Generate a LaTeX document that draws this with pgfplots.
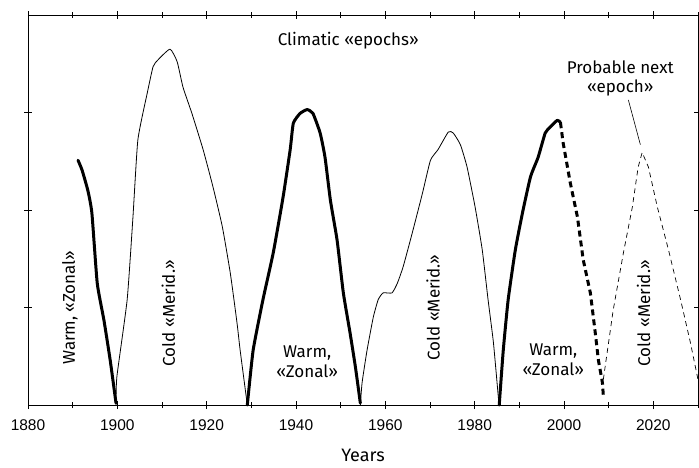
\documentclass[border=0pt]{standalone}
\usepackage{pgfplots}
\pgfplotsset{compat=1.18}
\usepackage{fontspec}
\setmainfont{Fira Sans}
\newfontfamily\tickfont{Liberation Sans}
\begin{document}
\begin{tikzpicture}
\begin{axis}[
  at={(0,0)}, anchor=south west,
  scale only axis, width=670pt, height=390pt,
  xmin=1880, xmax=2030, ymin=0, ymax=4,
  xtick={1880,1900,...,2020},
  minor xtick={1890,1910,...,2030},
  ytick={1,2,3},
  yticklabels={},
  tick align=center,
  major tick length=8pt, minor tick length=6pt,
  tick style={black, line width=0.6pt},
  axis line style={line width=0.8pt},
  xticklabel style={font=\tickfont\fontsize{15.5}{15.5}\selectfont, yshift=-7pt},
  /pgf/number format/assume math mode=true,
  /pgf/number format/1000 sep={},
  xlabel={Years},
  xlabel style={font=\fontsize{18}{18}\selectfont, yshift=-12pt},
  clip=false,
  every axis plot/.append style={line join=round, line cap=round},
]
% Warm 1890s (thick)
\addplot[black, line width=3pt, smooth, tension=0.3] coordinates {
(1891.2,2.51) (1892.1,2.41) (1893.4,2.20) (1894.3,1.97) (1895.5,1.25) (1897.0,0.87) (1898.4,0.46) (1899.7,0.02)
};
% Cold 1900-1929 (thin)
\addplot[black, line width=0.8pt, smooth, tension=0.3] coordinates {
(1899.7,0) (1899.9,0.29) (1902.2,1.08) (1903.5,1.93) (1904.6,2.72) (1906.7,3.20) (1908.0,3.47) (1909.1,3.54) (1911.8,3.65) (1913.4,3.52) (1914.7,3.26) (1916.7,2.99) (1919.2,2.62) (1921.4,2.24) (1923.5,1.83) (1925.3,1.35) (1926.8,0.84) (1927.5,0.56) (1929.1,0)
};
% Warm 1929-1954 (thick)
\addplot[black, line width=3pt, smooth, tension=0.3] coordinates {
(1929.1,0) (1930.4,0.56) (1932.6,1.08) (1934.9,1.56) (1937.1,2.13) (1938.7,2.62) (1939.4,2.89) (1940.9,2.99) (1942.5,3.03) (1943.8,2.99) (1945.4,2.79) (1946.5,2.54) (1947.7,2.10) (1949.2,1.69) (1950.6,1.15) (1952.1,0.74) (1953.3,0.39) (1954.4,0.02)
};
% Cold 1954-1985 (thin)
\addplot[black, line width=0.8pt, smooth, tension=0.3] coordinates {
(1954.4,0) (1954.8,0.23) (1955.9,0.56) (1957.3,0.90) (1958.4,1.08) (1959.5,1.15) (1961.5,1.15) (1962.7,1.25) (1964.0,1.42) (1966.0,1.76) (1968.3,2.17) (1970.1,2.51) (1971.8,2.62) (1974.1,2.80) (1975.2,2.79) (1976.8,2.67) (1978.3,2.44) (1980.1,2.03) (1981.7,1.59) (1983.0,1.08) (1984.2,0.64) (1985.3,0.08) (1985.5,0)
};
% Warm 1985-1999 (thick)
\addplot[black, line width=3pt, smooth, tension=0.3] coordinates {
(1985.5,0) (1986.4,0.56) (1987.5,1.08) (1989.1,1.59) (1990.7,1.97) (1992.5,2.34) (1994.2,2.54) (1995.8,2.79) (1996.9,2.85) (1998.5,2.92) (1999.2,2.90)
};
% Warm forecast (thick dashed)
\addplot[black, line width=3pt, line cap=butt, dash pattern=on 6pt off 4pt] coordinates {
(1999.2,2.90) (1999.8,2.69) (2001.4,2.28) (2003.0,1.93) (2004.3,1.49) (2005.9,1.15) (2007.0,0.74) (2007.7,0.46) (2008.6,0.23) (2008.8,0.10)
};
% Cold forecast (thin dashed)
\addplot[black, line width=0.7pt, line cap=butt, dash pattern=on 5pt off 4pt] coordinates {
(2008.8,0.26) (2011.0,0.97) (2013.3,1.56) (2015.3,2.03) (2016.6,2.44) (2017.5,2.59) (2018.9,2.44) (2020.9,2.03) (2023.4,1.59) (2026.1,1.08) (2028.3,0.64) (2030.0,0.26)
};
\node[font=\fontsize{17}{17}\selectfont] at (axis cs:1951.7,3.74) {Climatic «epochs»};
\node[font=\fontsize{17}{19}\selectfont, align=center] at (axis cs:2012.6,3.35) {Probable next\\«epoch»};
\draw[black, line width=0.6pt] (axis cs:2014.4,3.13) -- (axis cs:2017.1,2.67);
\node[font=\fontsize{17}{17}\selectfont, rotate=90] at (axis cs:1889.4,1.0) {Warm, «Zonal»};
\node[font=\fontsize{17}{17}\selectfont, rotate=90] at (axis cs:1911.4,0.94) {Cold «Merid.»};
\node[font=\fontsize{17}{17}\selectfont, rotate=90] at (axis cs:1970.7,1.0) {Cold «Merid.»};
\node[font=\fontsize{17}{17}\selectfont, rotate=90] at (axis cs:2017.8,0.94) {Cold «Merid.»};
\node[font=\fontsize{17}{20}\selectfont, align=center] at (axis cs:1942.5,0.44) {Warm,\\«Zonal»};
\node[font=\fontsize{17}{20}\selectfont, align=center] at (axis cs:1997.6,0.46) {Warm,\\«Zonal»};
\end{axis}
\pgfresetboundingbox
\path[use as bounding box] (-28pt,-62pt) rectangle (671pt,405pt);
\end{tikzpicture}
\end{document}
